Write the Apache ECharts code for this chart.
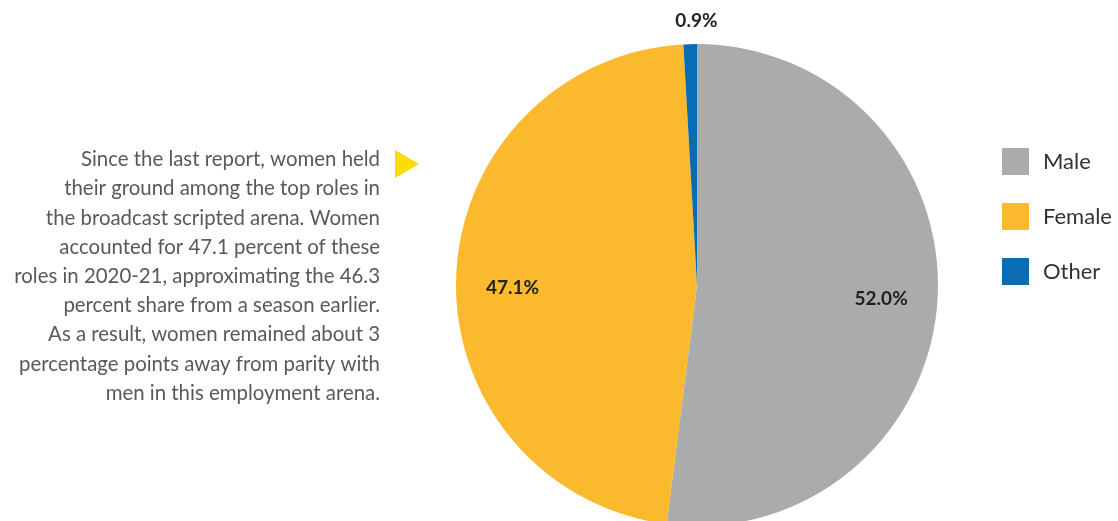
<!DOCTYPE html>
<html>
<head>
<meta charset="utf-8">
<script src="https://cdn.jsdelivr.net/npm/echarts@6/dist/echarts.min.js"></script>
<style>
  html, body { margin: 0; padding: 0; background: #fff; }
  #chart { width: 1118px; height: 521px; }
</style>
</head>
<body>
<div id="chart"></div>
<script>
// share of top roles by gender, broadcast scripted 2020-21
const categories = ['Male', 'Female', 'Other'];
const shares = [52.0, 47.1, 0.9];
const colors = ['#aaabad', '#fbb92d', '#0a6db3'];

const noteLines = [
  'Since the last report, women held',
  'their ground among the top roles in',
  'the broadcast scripted arena. Women',
  'accounted for 47.1 percent of these',
  'roles in 2020-21, approximating the 46.3',
  'percent share from a season earlier.',
  'As a result, women remained about 3',
  'percentage points away from parity with',
  'men in this employment arena.'
];

const pieData = categories.map((name, i) => ({ name: name, value: shares[i] }));

const chart = echarts.init(document.getElementById('chart'), null, { renderer: 'canvas' });

const labelText = { color: '#222', fontSize: 19, fontWeight: 'bold', fontFamily: 'Lato' };
// small nudges so the labels sit where the original has them
const innerOffsets = [[0, 2], [0, 9], [0, 0]];

const option = {
  backgroundColor: '#fff',
  color: colors,
  animation: false,
  legend: {
    orient: 'vertical',
    left: 1002, top: 148, padding: 0,
    itemWidth: 27, itemHeight: 27, itemGap: 28,
    icon: 'rect',
    data: categories,
    selectedMode: false,
    textStyle: { fontSize: 22, color: '#333', fontFamily: 'Lato', padding: [0, 0, 0, 9] }
  },
  graphic: [
    {
      type: 'text',
      x: 380, y: 145,
      style: {
        text: noteLines.join('\n'),
        align: 'right',
        verticalAlign: 'top',
        lineHeight: 29.2,
        font: '20.4px Lato',
        fill: '#595959'
      }
    },
    {
      type: 'polygon',
      shape: { points: [[395, 150], [419, 164], [395, 178]] },
      style: { fill: '#f9dd05' }
    }
  ],
  series: [
    {
      // actual slices
      name: 'share', type: 'pie',
      center: [697, 285], radius: 241,
      startAngle: 90, clockwise: true,
      label: { show: false }, labelLine: { show: false },
      emphasis: { disabled: true },
      itemStyle: { borderWidth: 0 },
      data: pieData
    },
    {
      // transparent ring only for the inner % labels
      name: 'labels', type: 'pie',
      center: [697, 285], radius: [122, 241],
      startAngle: 90, clockwise: true, silent: true,
      itemStyle: { color: 'transparent' },
      label: Object.assign({ show: true, position: 'inside' }, labelText),
      labelLine: { show: false },
      emphasis: { disabled: true },
      data: pieData.map((d, i) => ({
        name: d.name, value: d.value,
        label: { show: i < 2, offset: innerOffsets[i], formatter: v => v.value.toFixed(1) + '%' }
      }))
    },
    {
      // transparent outer ring for the small slice label
      name: 'outer', type: 'pie',
      center: [697, 285], radius: [241, 289],
      startAngle: 90, clockwise: true, silent: true,
      itemStyle: { color: 'transparent' },
      label: Object.assign({ show: true, position: 'inside', offset: [7, 4] }, labelText),
      labelLine: { show: false },
      emphasis: { disabled: true },
      data: pieData.map((d, i) => ({
        name: d.name, value: d.value,
        label: { show: i === 2, formatter: v => v.value.toFixed(1) + '%' }
      }))
    }
  ]
};

chart.setOption(option);
</script>
</body>
</html>
